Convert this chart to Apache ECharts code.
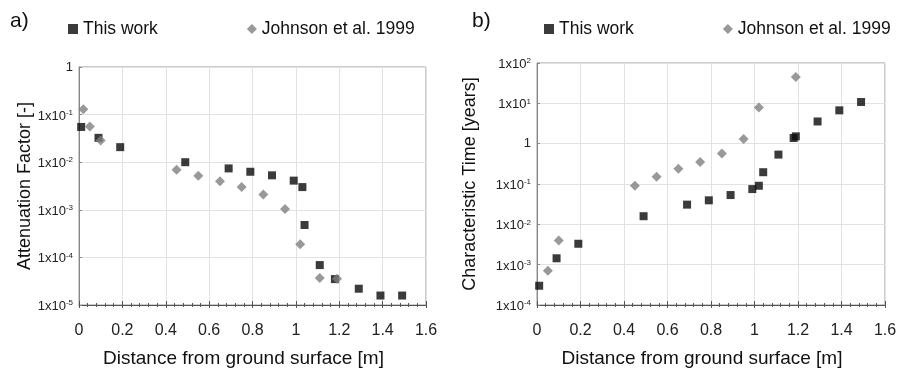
<!DOCTYPE html>
<html>
<head>
<meta charset="utf-8">
<script src="https://cdn.jsdelivr.net/npm/echarts@6/dist/echarts.min.js"></script>
<style>
html,body{margin:0;padding:0;background:#fff;}
#c{width:901px;height:373px;}
</style>
</head>
<body>
<div id="c"></div>
<script>
// ---- data ----
const xTickLabels = ['0','0.2','0.4','0.6','0.8','1','1.2','1.4','1.6'];
const legendNames = ['This work', 'Johnson et al. 1999'];

// a) Attenuation factor
const attnThisWorkX = [0.01,0.09,0.19,0.49,0.69,0.79,0.89,0.99,1.03,1.04,1.11,1.18,1.29,1.39,1.49];
const attnThisWorkY = [0.055,0.0325,0.0207,0.0100,0.0074,0.0063,0.0053,0.0041,0.0030,0.00048,6.9e-5,3.5e-5,2.2e-5,1.58e-5,1.58e-5];
const attnJohnsonX = [0.02,0.05,0.10,0.45,0.55,0.65,0.75,0.85,0.95,1.02,1.11,1.19];
const attnJohnsonY = [0.13,0.056,0.0286,0.0069,0.0052,0.0040,0.0030,0.0021,0.00104,0.000188,3.67e-5,3.55e-5];

// b) Characteristic time
const timeThisWorkX = [0.01,0.09,0.19,0.49,0.69,0.79,0.89,0.99,1.02,1.04,1.11,1.18,1.19,1.29,1.39,1.49];
const timeThisWorkY = [3.0e-4,0.00144,0.0033,0.0159,0.0308,0.0394,0.0532,0.0748,0.0904,0.196,0.536,1.38,1.52,3.55,6.7,10.8];
const timeJohnsonX = [0.05,0.10,0.45,0.55,0.65,0.75,0.85,0.95,1.02,1.19];
const timeJohnsonY = [7.1e-4,0.0040,0.090,0.151,0.238,0.353,0.567,1.30,7.9,45];

// ---- helpers ----
const FONT = "'Liberation Sans', Arial, sans-serif";
function zip(xs, ys){ return xs.map((x,i)=>[x, ys[i]]); }
function logLabel(v){
  const e = Math.round(Math.log10(v));
  if (e === 0) return '1';
  return '{b|1x10}{s|' + e + '}';
}
const yRich = {
  b: {fontSize: 13, color: '#222', fontFamily: FONT, verticalAlign: 'bottom', lineHeight: 16},
  s: {fontSize: 8, color: '#222', fontFamily: FONT, verticalAlign: 'bottom', lineHeight: 16, padding: [0,0,6,0]}
};

function xAxes(gridIndex){
  return [{
    type: 'value', gridIndex: gridIndex, min: 0, max: 1.6, interval: 0.2, position: 'bottom',
    axisLine: {show: true, lineStyle: {color: '#555', width: 1}},
    axisTick: {show: true, length: 3, lineStyle: {color: '#555'}},
    minorTick: {show: true, splitNumber: 5, length: 2, lineStyle: {color: '#555'}},
    splitLine: {show: true, lineStyle: {color: '#e2e2e2'}},
    axisLabel: {margin: 18, fontSize: 16, color: '#222', fontFamily: FONT,
      formatter: function(v){ return xTickLabels[Math.round(v/0.2)]; }},
    name: 'Distance from ground surface [m]', nameLocation: 'middle', nameGap: 44,
    nameTextStyle: {fontSize: 19, color: '#111', fontFamily: FONT, padding: [0, 18, 0, 0]}
  },{
    type: 'value', gridIndex: gridIndex, min: 0, max: 1.6, interval: 0.2, position: 'bottom',
    axisLine: {show: false}, axisLabel: {show: false}, splitLine: {show: false},
    axisTick: {show: true, inside: true, length: 4, lineStyle: {color: '#555'}},
    minorTick: {show: true, splitNumber: 5, length: 2, lineStyle: {color: '#555'}}
  }];
}
function yAxis(gridIndex, min, max, name, gap){
  return {
    type: 'log', logBase: 10, gridIndex: gridIndex, min: min, max: max,
    axisLine: {show: true, lineStyle: {color: '#888'}},
    axisTick: {show: true, inside: true, length: 3, lineStyle: {color: '#888'}},
    minorTick: {show: false},
    splitLine: {show: true, lineStyle: {color: '#e2e2e2'}},
    axisLabel: {margin: 6, formatter: logLabel, rich: yRich, fontSize: 13, color: '#222', fontFamily: FONT},
    name: name, nameLocation: 'middle', nameGap: gap, nameRotate: 90,
    nameTextStyle: {fontSize: 18, color: '#111', fontFamily: FONT}
  };
}
const sqStyle = {color: '#0a0a0a'};
const diaStyle = {color: '#808080'};

const option = {
  backgroundColor: '#fff',
  animation: false,
  title: [
    {text: 'a)', left: 5, top: 6, textStyle: {fontSize: 21, fontWeight: 'normal', color: '#111', fontFamily: FONT}},
    {text: 'b)', left: 467, top: 6, textStyle: {fontSize: 21, fontWeight: 'normal', color: '#111', fontFamily: FONT}}
  ],
  legend: [
    {left: 63, top: 15, itemWidth: 10, itemHeight: 10, itemGap: 89, data: legendNames,
     textStyle: {fontSize: 17.5, color: '#111', fontFamily: FONT}, selectedMode: false},
    {left: 539, top: 15, itemWidth: 10, itemHeight: 10, itemGap: 89, data: legendNames,
     textStyle: {fontSize: 17.5, color: '#111', fontFamily: FONT}, selectedMode: false}
  ],
  grid: [
    {left: 79, top: 67, width: 347, height: 238, show: true, borderColor: '#999', borderWidth: 1, backgroundColor: 'transparent'},
    {left: 537, top: 63, width: 348, height: 242, show: true, borderColor: '#999', borderWidth: 1, backgroundColor: 'transparent'}
  ],
  xAxis: xAxes(0).concat(xAxes(1)),
  yAxis: [
    yAxis(0, 1e-5, 1, 'Attenuation Factor [-]', 43),
    yAxis(1, 1e-4, 100, 'Characteristic Time [years]', 58)
  ],
  series: [
    {name: 'This work', type: 'scatter', xAxisIndex: 0, yAxisIndex: 0, symbol: 'rect', symbolSize: 8, itemStyle: sqStyle, data: zip(attnThisWorkX, attnThisWorkY)},
    {name: 'Johnson et al. 1999', type: 'scatter', xAxisIndex: 0, yAxisIndex: 0, symbol: 'diamond', symbolSize: 10, itemStyle: diaStyle, data: zip(attnJohnsonX, attnJohnsonY)},
    {name: 'This work', type: 'scatter', xAxisIndex: 2, yAxisIndex: 1, symbol: 'rect', symbolSize: 8, itemStyle: sqStyle, data: zip(timeThisWorkX, timeThisWorkY)},
    {name: 'Johnson et al. 1999', type: 'scatter', xAxisIndex: 2, yAxisIndex: 1, symbol: 'diamond', symbolSize: 10, itemStyle: diaStyle, data: zip(timeJohnsonX, timeJohnsonY)}
  ]
};
const chart = echarts.init(document.getElementById('c'), null, {renderer: 'canvas'});
chart.setOption(option);
</script>
</body>
</html>
